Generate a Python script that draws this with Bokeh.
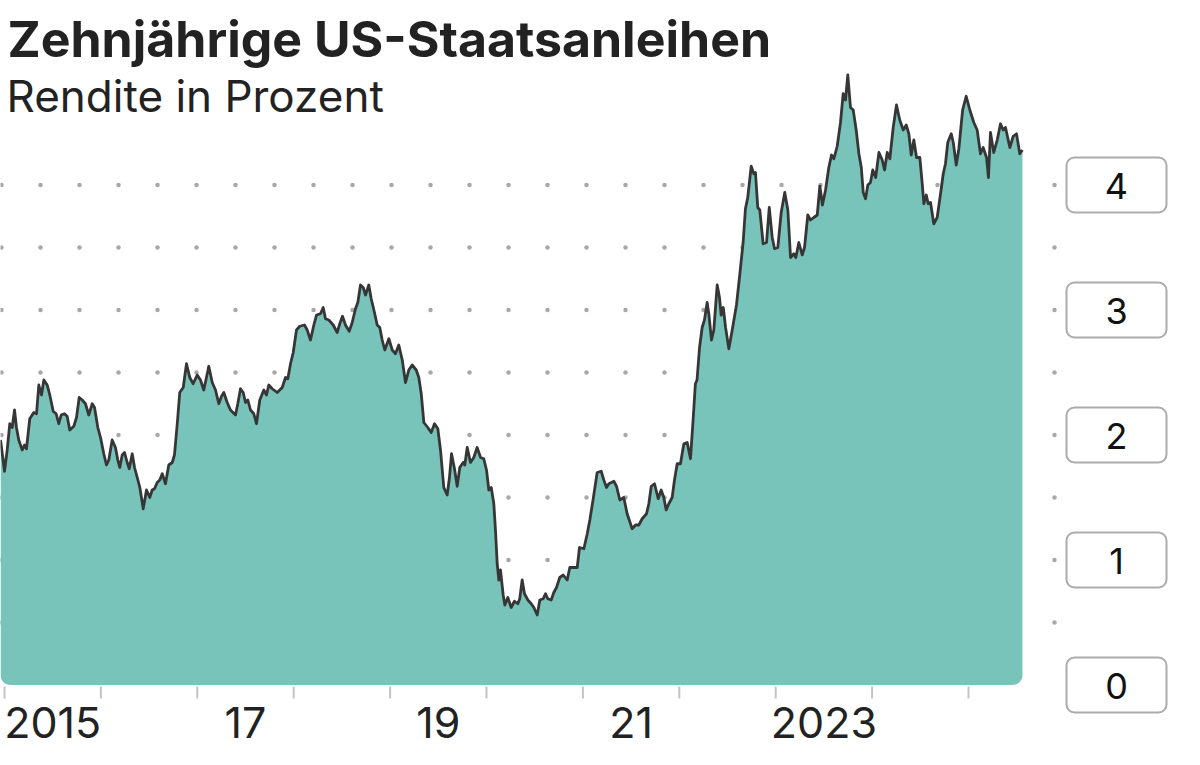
import numpy as np
from bokeh.plotting import figure
from bokeh.models import Range1d, Label, Quad
from bokeh.core.properties import value
from bokeh.embed import file_html
from bokeh.resources import INLINE

# ---------------- data ----------------
dates = [
    2014.959, 2015.000, 2015.028, 2015.055, 2015.080, 2015.104, 2015.124, 2015.148, 2015.184, 2015.207,
    2015.228, 2015.262, 2015.304, 2015.332, 2015.356, 2015.384, 2015.408, 2015.443, 2015.470, 2015.505,
    2015.536, 2015.563, 2015.588, 2015.622, 2015.650, 2015.677, 2015.719, 2015.747, 2015.775, 2015.806,
    2015.840, 2015.874, 2015.910, 2015.934, 2015.968, 2015.996,
    2016.030, 2016.058, 2016.082, 2016.117, 2016.151, 2016.175, 2016.196, 2016.221, 2016.245, 2016.273,
    2016.294, 2016.325, 2016.349, 2016.377, 2016.404, 2016.439, 2016.473, 2016.507, 2016.532, 2016.556,
    2016.584, 2016.611, 2016.636, 2016.670, 2016.704, 2016.740, 2016.763, 2016.792, 2016.818, 2016.854,
    2016.888, 2016.922, 2016.957, 2016.999,
    2017.033, 2017.067, 2017.095, 2017.119, 2017.155, 2017.189, 2017.223, 2017.251, 2017.275, 2017.310,
    2017.344, 2017.396, 2017.420, 2017.448, 2017.476, 2017.500, 2017.524, 2017.552, 2017.586, 2017.614,
    2017.648, 2017.690, 2017.718, 2017.742, 2017.777, 2017.829, 2017.881, 2017.915, 2017.939, 2017.967,
    2017.995,
    2018.029, 2018.063, 2018.112, 2018.140, 2018.174, 2018.209, 2018.237, 2018.278, 2018.306, 2018.330,
    2018.364, 2018.410, 2018.451, 2018.478, 2018.506, 2018.537, 2018.576, 2018.607, 2018.641, 2018.665,
    2018.693, 2018.721, 2018.745, 2018.779, 2018.804, 2018.838, 2018.866, 2018.893, 2018.918, 2018.945,
    2018.987,
    2019.022, 2019.056, 2019.090, 2019.126, 2019.160, 2019.194, 2019.229, 2019.271, 2019.298, 2019.323,
    2019.350, 2019.391, 2019.426, 2019.461, 2019.495, 2019.523, 2019.557, 2019.592, 2019.616, 2019.637,
    2019.668, 2019.696, 2019.723, 2019.758, 2019.775, 2019.800, 2019.834, 2019.868, 2019.903, 2019.938,
    2019.972,
    2020.000, 2020.024, 2020.049, 2020.076, 2020.093, 2020.111, 2020.128, 2020.145, 2020.173, 2020.190,
    2020.221, 2020.256, 2020.290, 2020.325, 2020.345, 2020.370, 2020.394, 2020.429, 2020.464, 2020.491,
    2020.526, 2020.553, 2020.588, 2020.612, 2020.636, 2020.671, 2020.698, 2020.726, 2020.760, 2020.796,
    2020.837, 2020.864, 2020.899, 2020.941, 2020.965,
    2021.010, 2021.045, 2021.072, 2021.107, 2021.148, 2021.190, 2021.217, 2021.245, 2021.269, 2021.321,
    2021.349, 2021.383, 2021.424, 2021.459, 2021.511, 2021.546, 2021.580, 2021.615, 2021.660, 2021.684,
    2021.709, 2021.743, 2021.781, 2021.812, 2021.839, 2021.864, 2021.891, 2021.926, 2021.950, 2021.978,
    2022.012, 2022.047, 2022.082, 2022.116, 2022.143, 2022.167, 2022.184, 2022.210, 2022.237, 2022.261,
    2022.289, 2022.306, 2022.334, 2022.358, 2022.393, 2022.417, 2022.434, 2022.456, 2022.480, 2022.514,
    2022.549, 2022.593, 2022.627, 2022.662, 2022.686, 2022.710, 2022.746, 2022.773, 2022.790, 2022.814,
    2022.835, 2022.870, 2022.905, 2022.933, 2022.964, 2022.988,
    2023.022, 2023.057, 2023.094, 2023.126, 2023.154, 2023.188, 2023.209, 2023.240, 2023.275, 2023.299,
    2023.333, 2023.361, 2023.395, 2023.431, 2023.458, 2023.485, 2023.517, 2023.551, 2023.579, 2023.603,
    2023.638, 2023.672, 2023.700, 2023.724, 2023.748, 2023.776, 2023.804, 2023.835, 2023.863, 2023.888,
    2023.908, 2023.932, 2023.956, 2023.983,
    2024.007, 2024.037, 2024.071, 2024.105, 2024.129, 2024.157, 2024.184, 2024.219, 2024.253, 2024.287,
    2024.323, 2024.354, 2024.381, 2024.406, 2024.433, 2024.461, 2024.495, 2024.520, 2024.537, 2024.562,
    2024.582, 2024.606, 2024.640, 2024.675, 2024.710, 2024.738, 2024.761, 2024.785, 2024.821, 2024.842,
    2024.873, 2024.900, 2024.939, 2024.976,
    2025.014, 2025.055, 2025.090, 2025.124, 2025.152, 2025.187, 2025.207, 2025.228, 2025.262, 2025.298,
    2025.332, 2025.360, 2025.384, 2025.429, 2025.464, 2025.498, 2025.532, 2025.560,
]

yields = [
    1.96, 1.71, 1.88, 2.09, 2.06, 2.20, 2.06, 1.96, 1.88, 1.92,
    1.89, 2.13, 2.18, 2.17, 2.40, 2.32, 2.44, 2.40, 2.32, 2.19,
    2.17, 2.09, 2.16, 2.17, 2.15, 2.04, 2.07, 2.14, 2.30, 2.28,
    2.25, 2.16, 2.25, 2.22, 2.06, 1.98,
    1.85, 1.76, 1.80, 1.96, 1.90, 1.80, 1.74, 1.84, 1.86, 1.78,
    1.73, 1.85, 1.74, 1.66, 1.58, 1.41, 1.56, 1.50, 1.56, 1.57,
    1.62, 1.64, 1.69, 1.61, 1.76, 1.78, 1.84, 2.09, 2.34, 2.38,
    2.57, 2.46, 2.41, 2.48,
    2.44, 2.36, 2.46, 2.55, 2.42, 2.36, 2.25, 2.31, 2.34, 2.26,
    2.20, 2.16, 2.25, 2.37, 2.34, 2.26, 2.28, 2.20, 2.17, 2.09,
    2.28, 2.36, 2.32, 2.40, 2.37, 2.34, 2.38, 2.46, 2.45, 2.57,
    2.66,
    2.84, 2.87, 2.88, 2.84, 2.76, 2.88, 2.96, 2.97, 3.02, 2.93,
    2.92, 2.88, 2.82, 2.89, 2.95, 2.88, 2.83, 2.90, 3.01, 3.06,
    3.20, 3.18, 3.12, 3.20, 3.09, 2.98, 2.88, 2.86, 2.76, 2.68,
    2.77,
    2.68, 2.65, 2.72, 2.60, 2.42, 2.52, 2.56, 2.52, 2.46, 2.33,
    2.10, 2.06, 2.02, 2.09, 2.05, 1.88, 1.58, 1.52, 1.66, 1.85,
    1.73, 1.59, 1.74, 1.78, 1.76, 1.90, 1.78, 1.82, 1.90, 1.82,
    1.81,
    1.72, 1.56, 1.58, 1.45, 1.24, 0.97, 0.84, 0.92, 0.72, 0.64,
    0.70, 0.62, 0.67, 0.65, 0.69, 0.84, 0.73, 0.68, 0.65, 0.62,
    0.56, 0.68, 0.69, 0.73, 0.69, 0.68, 0.74, 0.78, 0.86, 0.88,
    0.84, 0.94, 0.94, 0.94, 1.10,
    1.09, 1.21, 1.32, 1.49, 1.70, 1.71, 1.64, 1.58, 1.61, 1.63,
    1.59, 1.48, 1.50, 1.37, 1.25, 1.28, 1.28, 1.33, 1.37, 1.45,
    1.59, 1.61, 1.49, 1.56, 1.50, 1.40, 1.45, 1.50, 1.64, 1.77,
    1.77, 1.93, 1.94, 1.81, 2.12, 2.41, 2.44, 2.70, 2.86, 2.92,
    3.06, 2.97, 2.76, 2.84, 3.20, 3.10, 2.96, 3.02, 2.86, 2.69,
    2.84, 3.04, 3.28, 3.54, 3.81, 3.90, 4.15, 4.09, 4.10, 3.82,
    3.80, 3.53, 3.54, 3.82, 3.58, 3.49,
    3.50, 3.78, 3.94, 3.80, 3.42, 3.45, 3.42, 3.54, 3.44, 3.50,
    3.76, 3.72, 3.74, 3.76, 3.99, 3.84, 3.96, 4.14, 4.24, 4.21,
    4.31, 4.50, 4.73, 4.68, 4.88, 4.62, 4.60, 4.44, 4.25, 4.14,
    3.94, 3.89, 4.00, 4.02,
    4.12, 4.06, 4.26, 4.20, 4.12, 4.26, 4.21, 4.46, 4.64, 4.52,
    4.44, 4.48, 4.41, 4.24, 4.36, 4.22, 4.22, 4.01, 3.85, 3.92,
    3.85, 3.86, 3.69, 3.74, 3.93, 4.09, 4.17, 4.34, 4.41, 4.34,
    4.16, 4.29, 4.60, 4.71,
    4.60, 4.50, 4.44, 4.25, 4.30, 4.22, 4.06, 4.42, 4.26, 4.36,
    4.49, 4.44, 4.46, 4.30, 4.39, 4.41, 4.25, 4.28,
]

y_ticks = [0, 1, 2, 3, 4]
y_tick_labels = ["0", "1", "2", "3", "4"]
grid_levels = [0.5, 1.0, 1.5, 2.0, 2.5, 3.0, 3.5, 4.0]
year_ticks = list(range(2015, 2026))
year_label_pos = [2015.5, 2017.5, 2019.5, 2021.5, 2023.5]
year_labels = ["2015", "17", "19", "21", "2023"]

TITLE = "Zehnjährige US-Staatsanleihen"
SUBTITLE = "Rendite in Prozent"

# ---------------- styling / layout ----------------
FONT = "Inter"
TEAL = "#79c4ba"
LINE = "#363636"
TEXT = "#222222"

W, H = 1184, 749
PXY = 96.4      # pixels per year
PXV = 125.0     # pixels per percentage point


def px_x(px):   # picture pixel -> year
    return 2015 + (px - 4) / PXY


def px_y(py):   # picture pixel -> percent
    return (684.5 - py) / PXV


def base_y(py, size):   # baseline position corrected for how text is anchored
    return px_y(py - 0.363 * size)


p = figure(width=W, height=H,
           x_range=Range1d(px_x(0), px_x(W)),
           y_range=Range1d(px_y(H), px_y(0)),
           x_axis_location=None, y_axis_location=None,
           output_backend="svg", toolbar_location=None,
           min_border=0, outline_line_color=None,
           background_fill_color="white", border_fill_color="white")
p.xgrid.grid_line_color = None
p.ygrid.grid_line_color = None

# dotted horizontal grid
dot_x = [px_x(1 + 39 * k) for k in range(28)]
gx, gy = np.meshgrid(dot_x, grid_levels)
p.scatter(gx.ravel(), gy.ravel(), size=4.5, color="#a8a8a8", line_color=None)

# area with rounded bottom corners
rx, ry = 10 / PXY, 10 / PXV
th = np.linspace(0, np.pi / 2, 10)
xl, xr = dates[0], dates[-1]
br_x = xr - rx + rx * np.cos(th)
br_y = ry - ry * np.sin(th)
bl_x = xl + rx - rx * np.sin(th)
bl_y = ry - ry * np.cos(th)
area_x = list(dates) + list(br_x) + list(bl_x)
area_y = list(yields) + list(br_y) + list(bl_y)
p.patch(area_x, area_y, fill_color=TEAL, line_color=None)
p.line(dates, yields, line_color=LINE, line_width=2.8, line_join="round")

# x ticks (year boundaries) and labels (mid-year)
n = len(year_ticks)
p.segment(x0=year_ticks, y0=[px_y(686)] * n, x1=year_ticks, y1=[px_y(698)] * n,
          line_color="#c4c4c4", line_width=2)
p.text(x=year_label_pos, y=[base_y(737.5, 43)] * len(year_label_pos), text=year_labels,
       text_font=value(FONT), text_font_size="43px", text_color=TEXT,
       text_align="center", text_baseline="alphabetic")

# boxed y labels on the right
hh = 27.5 / PXV
qkw = dict(left=[px_x(1066)] * 5, right=[px_x(1166)] * 5,
           bottom=[t - hh for t in y_ticks], top=[t + hh for t in y_ticks],
           fill_color="white", line_color="#ababab", line_width=2)
if "border_radius" in Quad.properties():
    qkw["border_radius"] = 8
p.quad(**qkw)
digit_off = (199 - 0.363 * 36 - 184.5) / PXV
p.text(x=[px_x(1116)] * 5, y=[t - digit_off for t in y_ticks], text=y_tick_labels,
       text_font=value(FONT), text_font_size="36px", text_color="#111111",
       text_align="center", text_baseline="alphabetic")

# title and subtitle
p.add_layout(Label(x=px_x(7), y=base_y(56.7, 50), text=TITLE, text_font=FONT,
                   text_font_size="50px", text_font_style="bold", text_color=TEXT,
                   text_baseline="alphabetic"))
p.add_layout(Label(x=px_x(6), y=base_y(111.7, 44), text=SUBTITLE, text_font=FONT,
                   text_font_size="44px", text_color=TEXT,
                   text_baseline="alphabetic"))

open("out.html", "w").write(file_html(p, INLINE))
